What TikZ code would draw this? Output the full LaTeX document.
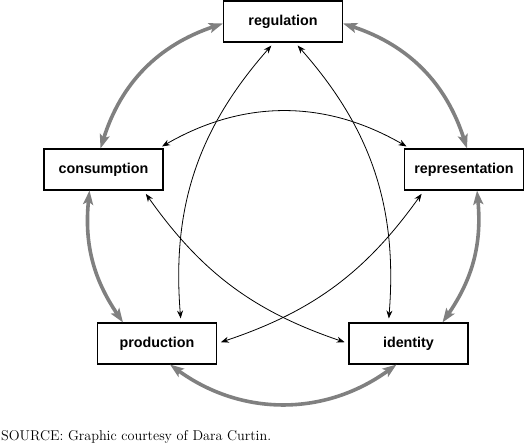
\documentclass[tikz,border=0pt]{standalone}
\usepackage{fontspec}
\newfontfamily\stagefont{Liberation Sans}
\usetikzlibrary{arrows.meta}
\definecolor{arcgray}{gray}{0.5}

\begin{document}
\begin{tikzpicture}[x=1pt,y=-1pt,
  stage/.style={draw,line width=1.1pt,minimum width=119pt,minimum height=41pt,inner sep=0pt,
    font=\stagefont\bfseries\fontsize{14.3}{16}\selectfont},
  grayloop/.style={draw=arcgray,line width=3.6pt,
    {Stealth[length=14pt,width=10pt,inset=3pt]}-{Stealth[length=14pt,width=10pt,inset=3pt]}},
  crosslink/.style={line width=0.8pt,shorten <=4pt,shorten >=4pt,
    {Stealth[length=8pt,width=6pt]}-{Stealth[length=8pt,width=6pt]}}]
\useasboundingbox (0,0) rectangle (528,444);
\node[stage] (reg) at (283,21.5) {regulation};
\node[stage] (cons) at (103.5,169.5) {consumption};
\node[stage] (repr) at (464,169.5) {representation};
\node[stage] (prod) at (157,343.5) {production};
\node[stage] (iden) at (408.5,343.5) {identity};
\draw[grayloop] ([yshift=-2pt]reg.west) to[bend right=27] ([xshift=-3pt]cons.north);
\draw[grayloop] ([yshift=-2pt]reg.east) to[bend left=27] ([xshift=3pt]repr.north);
\draw[grayloop] ([xshift=-14pt]cons.south) to[bend right=20] ([xshift=-34pt]prod.north);
\draw[grayloop] ([xshift=13pt]repr.south) to[bend left=20] ([xshift=34pt]iden.north);
\draw[grayloop] ([xshift=13pt]prod.south) to[bend right=36] ([xshift=-12pt]iden.south);
\draw[crosslink] ([xshift=-5pt]cons.north east) to[bend left=30] ([xshift=6pt]repr.north west);
\draw[crosslink] ([xshift=-20pt]cons.south east) to[bend right=18] (iden.west);
\draw[crosslink] ([xshift=20pt]repr.south west) to[bend left=18] (prod.east);
\draw[crosslink] ([xshift=-9pt]reg.south) to[bend right=23] ([xshift=24pt]prod.north);
\draw[crosslink] ([xshift=12pt]reg.south) to[bend left=23] ([xshift=-20pt]iden.north);
\node[anchor=base west,inner sep=0pt,font=\fontsize{14.2}{17}\selectfont] (source) at (1,440.5)
  {SOURCE: Graphic courtesy of Dara Curtin.};
\end{tikzpicture}
\end{document}
